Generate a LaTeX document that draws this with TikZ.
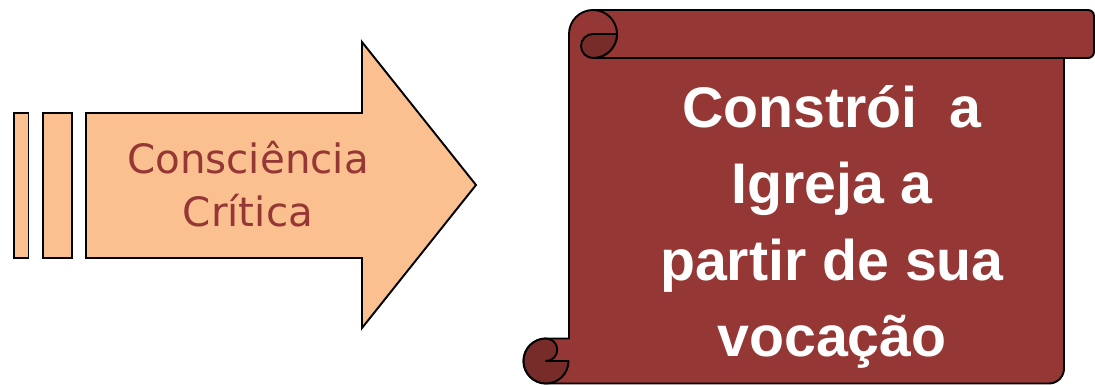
\documentclass[tikz,border=0pt]{standalone}
\usepackage{fontspec}
\newfontfamily\arrowfont{DejaVu Sans}
\newfontfamily\scrollfont{Liberation Sans}
\usepackage{xcolor}
\definecolor{arrowfill}{HTML}{FAC090}
\definecolor{scrollred}{HTML}{953735}
\definecolor{scrolldark}{HTML}{772C2A}

\begin{document}
\begin{tikzpicture}[
      x=0.02cm, y=0.02cm,
      every node/.style={align=center},
      arrowpart/.style={draw, line width=1.1pt, fill=arrowfill},
      scrollpart/.style={draw, line width=1.1pt, fill=scrollred, line join=round},
      curlpart/.style={draw, line width=1.1pt, fill=scrolldark, line join=round},
    ]
    \useasboundingbox (0,0) rectangle (1095,385);

    \draw[arrowpart] (14,127) rectangle (28.5,272);
    \draw[arrowpart] (43,127) rectangle (72,272);
    \draw[arrowpart] (86,272) -- (362,272) -- (362,343) -- (476,200) -- (362,57) -- (362,127) -- (86,127) -- cycle;
    \node[font=\arrowfont\fontsize{23}{30.2}\selectfont, text=scrollred] (critica) at (248,201) {Consciência\\Crítica};

    \draw[scrollpart] (593,375) -- (1088,375) arc[start angle=90, end angle=0, radius=6]
      -- (1094,333) arc[start angle=0, end angle=-90, radius=6] -- (1064,327)
      -- (1064,16.5) arc[start angle=0, end angle=-90, radius=15] -- (546,1.5)
      arc[start angle=270, end angle=90, radius=22.5] -- (569,46.5) -- (569,351)
      arc[start angle=180, end angle=90, radius=24] -- cycle;
    \draw[line width=1.1pt] (593,375) arc[start angle=90, end angle=-90, radius=24] -- (1064,327);
    \draw[curlpart] (593,351) -- (617,351) arc[start angle=0, end angle=-90, radius=24]
      arc[start angle=270, end angle=90, radius=12] -- cycle;
    \draw[curlpart] (546,46.5) arc[start angle=90, end angle=270, radius=22.5]
      arc[start angle=-90, end angle=0, radius=22.5] -- (546,24)
      arc[start angle=-90, end angle=90, radius=11.25] -- cycle;
    \node[font=\scrollfont\bfseries\fontsize{32.6}{43.4}\selectfont, text=white] (vocacao) at (832,158) {Constrói\ \ a\\Igreja a\\partir de sua\\vocação};
  \end{tikzpicture}
\end{document}
